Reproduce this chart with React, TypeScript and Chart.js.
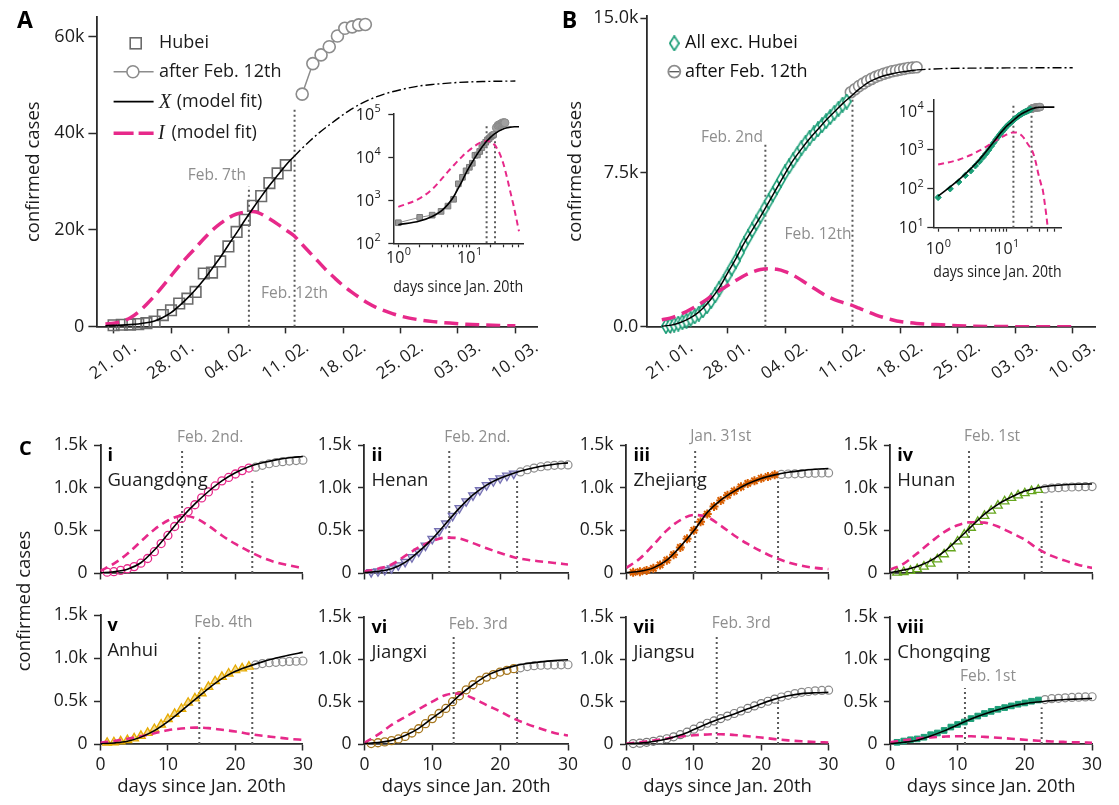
import React, { useEffect, useRef } from 'react';
import { Chart, registerables } from 'chart.js';

Chart.register(...registerables);

const FONT = "'Open Sans', 'Noto Sans', 'DejaVu Sans', sans-serif";
const MATH = "'Liberation Serif', 'DejaVu Serif', serif";
const INK = '#1c1c1c';
const AXIS = '#2a2a2a';
const MAGENTA = '#e7298a';
const GREY = '#8c8c8c';
const DOT = '#5a5a5a';
const NOTE = '#8e8e8e';
const GREEN = '#1b9e77';

Chart.defaults.font.family = FONT;
Chart.defaults.color = INK;

/* ---------------- Panel A : Hubei ---------------- */
const dateTickDays = [1, 8, 15, 22, 29, 36, 43, 50];
const dateTickLabels = ['21. 01.', '28. 01.', '04. 02.', '11. 02.', '18. 02.', '25. 02.', '03. 03.', '10. 03.'];
const aYTicks = [0, 20000, 40000, 60000];
const aYTickLabels = ['0', '20k', '40k', '60k'];

const hubeiDays = [1, 2, 3, 4, 5, 6, 7, 8, 9, 10, 11, 12, 13, 14, 15, 16, 17, 18, 19, 20, 21, 22];
const hubeiCases = [300, 400, 450, 550, 730, 1050, 2400, 3400, 4800, 5800, 7200, 11000, 11200, 13500, 16600, 19600, 22100, 25000, 27000, 29700, 31700, 33400];
const hubeiAfterDays = [24, 25.3, 26.3, 27.3, 28.3, 29.2, 30.1, 30.9, 31.7];
const hubeiAfterCases = [48100, 54400, 56200, 57900, 60100, 61700, 62000, 62400, 62500];

const aFitDays = [0, 1, 2, 3, 4, 5, 6, 7, 8, 9, 10, 11, 12, 13, 14, 15, 16, 17, 18, 19, 20, 21, 22, 23];
const aFitX = [200, 270, 330, 420, 560, 800, 1200, 1900, 2900, 4300, 5900, 7700, 9700, 12000, 14300, 16900, 19400, 22000, 24500, 26900, 29200, 31300, 33400, 35200];
const aExtrapDays = [23, 24, 25, 26, 28, 30, 32, 34, 36, 38, 40, 43, 46, 50];
const aExtrapX = [35200, 36900, 38500, 40000, 42600, 45000, 46800, 48100, 49000, 49700, 50100, 50500, 50700, 50800];
const aIDays = [0, 1, 2, 3, 4, 5, 6, 7, 8, 9, 10, 11, 12, 13, 14, 15, 16, 17, 18, 19, 20, 21, 22, 23, 24, 25, 26, 27, 28, 29, 30, 31, 32, 33, 34, 35, 36, 38, 40, 42, 44, 46, 48, 50];
const aFitI = [550, 700, 1100, 1800, 3000, 4600, 6400, 8400, 10500, 12600, 14500, 16300, 18200, 19900, 21300, 22500, 23300, 23700, 23800, 23300, 22300, 21200, 20000, 18800, 17000, 15200, 13400, 11600, 10000, 8500, 7200, 6000, 4900, 4000, 3300, 2700, 2200, 1500, 1050, 750, 520, 370, 260, 190];
const aMarkDays = [17.5, 23.07];
const aMarkTops = [29000, 45400];
const aMarkLabels = ['Feb. 7th', 'Feb. 12th'];
const aInsetMarkDays = [17.5, 23];

/* ---------------- Panel B : all except Hubei ---------------- */
const bYTicks = [0, 7500, 15000];
const bYTickLabels = ['0.0', '7.5k', '15.0k'];
const bDays = [0.5, 1, 1.5, 2, 2.5, 3, 3.5, 4, 4.5, 5, 5.5, 6, 6.5, 7, 7.5, 8, 8.5, 9, 9.5, 10, 10.5, 11, 11.5, 12, 12.5, 13, 13.5, 14, 14.5, 15, 15.5, 16, 16.5, 17, 17.5, 18, 18.5, 19, 19.5, 20, 20.5, 21, 21.5, 22, 22.5];
const bCases = [30, 60, 100, 150, 220, 290, 390, 500, 640, 800, 1000, 1250, 1530, 1850, 2150, 2500, 2850, 3200, 3600, 4000, 4350, 4700, 5050, 5400, 5750, 6100, 6450, 6800, 7150, 7500, 7800, 8100, 8400, 8700, 8950, 9200, 9400, 9600, 9800, 10000, 10200, 10400, 10600, 10800, 10950];
const bAfterDays = [23, 23.5, 24, 24.5, 25, 25.5, 26, 26.5, 27, 27.5, 28, 28.5, 29, 29.5, 30, 30.5, 31];
const bAfterCases = [11400, 11550, 11700, 11830, 11950, 12050, 12150, 12230, 12300, 12360, 12420, 12460, 12500, 12540, 12580, 12600, 12620];
const bFitDays = [0, 1, 2, 3, 4, 5, 6, 7, 8, 9, 10, 11, 12, 13, 14, 15, 16, 17, 18, 19, 20, 21, 22, 23, 24, 25, 26, 27, 28, 29, 30, 31];
const bFitX = [20, 65, 170, 330, 560, 900, 1350, 1900, 2600, 3300, 4050, 4700, 5350, 6050, 6750, 7450, 8100, 8650, 9150, 9600, 10050, 10450, 10850, 11200, 11550, 11850, 12050, 12200, 12300, 12380, 12440, 12490];
const bExtrapDays = [31, 33, 35, 38, 42, 46, 50];
const bExtrapX = [12490, 12530, 12560, 12575, 12585, 12590, 12590];
const bIDays = [0, 1, 2, 3, 4, 5, 6, 7, 8, 9, 10, 11, 12, 13, 14, 15, 16, 17, 18, 19, 20, 21, 22, 23, 24, 25, 26, 27, 28, 29, 30, 31, 32, 34, 36, 38, 40, 42, 44, 46, 48, 50];
const bFitI = [330, 420, 560, 740, 960, 1200, 1480, 1750, 2000, 2250, 2480, 2660, 2780, 2820, 2790, 2680, 2500, 2260, 2000, 1750, 1500, 1320, 1180, 1060, 900, 740, 580, 450, 340, 250, 200, 160, 130, 90, 45, 22, 10, 4, 1.6, 0.6, 0.2, 0.07];
const bMarkDays = [12.6, 23.2];
const bMarkTops = [9000, 11190];
const bMarkLabels = ['Feb. 2nd', 'Feb. 12th'];

/* ---------------- log insets ---------------- */
const logDayTicks = [1, 2, 3, 4, 5, 6, 7, 8, 9, 10, 20, 30, 40, 50];
const logDayLabelVals = [1, 10];
const logDayLabelExps = ['0', '1'];
const aInsetYTicks = [100, 1000, 10000, 100000];
const aInsetYExps = ['2', '3', '4', '5'];
const bInsetYTicks = [10, 100, 1000, 10000];
const bInsetYExps = ['1', '2', '3', '4'];

/* ---------------- Panel C : provinces ---------------- */
const cXTicks = [0, 10, 20, 30];
const cXTickLabels = ['0', '10', '20', '30'];
const cYTicks = [0, 500, 1000, 1500];
const cYTickLabels = ['0', '0.5k', '1.0k', '1.5k'];
const cDataDays = [1, 2, 3, 4, 5, 6, 7, 8, 9, 10, 11, 12, 13, 14, 15, 16, 17, 18, 19, 20, 21, 22];
const cAfterDays = [23, 24, 25, 26, 27, 28, 29, 30];
const cFitDays = [0, 2, 4, 6, 8, 10, 12, 14, 16, 18, 20, 22, 24, 26, 28, 30];

const gdCases = [10, 15, 30, 50, 75, 115, 170, 250, 345, 440, 545, 640, 720, 800, 880, 950, 1020, 1080, 1120, 1160, 1200, 1230];
const gdAfter = [1240, 1262, 1280, 1295, 1305, 1312, 1318, 1322];
const gdFitX = [3, 15, 45, 120, 270, 455, 645, 810, 955, 1080, 1175, 1245, 1292, 1326, 1350, 1366];
const gdFitI = [25, 110, 225, 370, 510, 615, 670, 645, 555, 440, 340, 255, 180, 125, 88, 56];

const hnCases = [10, 20, 35, 55, 90, 130, 185, 250, 320, 400, 490, 580, 670, 760, 840, 910, 970, 1030, 1075, 1110, 1140, 1165];
const hnAfter = [1185, 1210, 1230, 1245, 1255, 1262, 1265, 1267];
const hnFitX = [5, 20, 50, 125, 250, 400, 580, 760, 915, 1030, 1110, 1170, 1215, 1250, 1275, 1290];
const hnFitI = [20, 50, 100, 200, 300, 375, 415, 405, 350, 290, 235, 185, 155, 135, 118, 100];

const zjCases = [8, 15, 30, 55, 95, 150, 215, 300, 400, 500, 600, 690, 780, 850, 910, 960, 1010, 1050, 1080, 1110, 1130, 1150];
const zjAfter = [1155, 1160, 1162, 1165, 1168, 1170, 1172, 1173];
const zjFitX = [5, 20, 60, 150, 310, 495, 710, 855, 960, 1045, 1108, 1150, 1180, 1200, 1215, 1225];
const zjFitI = [60, 170, 330, 500, 620, 680, 655, 555, 440, 340, 255, 180, 125, 85, 60, 45];

const hunCases = [5, 12, 25, 45, 75, 110, 160, 220, 290, 370, 450, 530, 600, 670, 730, 790, 840, 880, 910, 935, 960, 975];
const hunAfter = [985, 995, 1000, 1005, 1008, 1010, 1012, 1013];
const hunFitX = [5, 35, 77, 145, 250, 390, 540, 690, 805, 890, 960, 1000, 1022, 1035, 1040, 1043];
const hunFitI = [40, 110, 230, 360, 480, 560, 595, 590, 545, 470, 390, 280, 200, 145, 95, 60];

const ahCases = [15, 20, 30, 45, 65, 95, 130, 175, 225, 290, 350, 410, 480, 530, 590, 665, 730, 780, 820, 860, 880, 900];
const ahAfter = [920, 935, 945, 950, 955, 960, 962, 965];
const ahFitX = [3, 12, 32, 80, 155, 260, 385, 515, 645, 760, 845, 905, 955, 1000, 1035, 1065];
const ahFitI = [15, 35, 60, 90, 125, 160, 180, 190, 185, 165, 145, 118, 95, 78, 60, 48];

const jxCases = [5, 15, 25, 40, 60, 90, 130, 180, 240, 300, 360, 420, 500, 570, 640, 700, 750, 790, 820, 850, 870, 890];
const jxAfter = [900, 915, 925, 930, 932, 934, 935, 936];
const jxFitX = [5, 18, 43, 100, 185, 305, 425, 575, 700, 805, 873, 920, 950, 970, 985, 995];
const jxFitI = [15, 110, 225, 320, 410, 500, 580, 595, 540, 460, 385, 300, 235, 180, 130, 100];

const jsCases = [5, 10, 20, 32, 45, 62, 85, 110, 140, 175, 210, 245, 272, 300, 330, 360, 390, 420, 450, 478, 505, 530];
const jsAfter = [555, 575, 595, 610, 620, 628, 633, 636];
const jsFitX = [2, 10, 30, 60, 105, 170, 240, 300, 355, 415, 475, 530, 570, 595, 605, 610];
const jsFitI = [5, 20, 42, 65, 88, 103, 113, 115, 107, 92, 76, 58, 43, 32, 24, 18];

const cqCases = [20, 35, 50, 60, 80, 110, 130, 160, 200, 230, 260, 300, 330, 360, 385, 410, 430, 450, 470, 485, 505, 520];
const cqAfter = [525, 535, 540, 545, 550, 553, 556, 558];
const cqFitX = [5, 20, 45, 95, 155, 225, 296, 355, 405, 445, 477, 497, 512, 525, 532, 538];
const cqFitI = [20, 45, 65, 78, 87, 92, 91, 84, 74, 62, 50, 39, 30, 24, 19, 15];

const cNums = ['i', 'ii', 'iii', 'iv', 'v', 'vi', 'vii', 'viii'];
const cNames = ['Guangdong', 'Henan', 'Zhejiang', 'Hunan', 'Anhui', 'Jiangxi', 'Jiangsu', 'Chongqing'];
const cPeakDays = [12.1, 12.5, 10.2, 11.7, 14.65, 13.15, 13.4, 11.1];
const cPeakLabels = ['Feb. 2nd.', 'Feb. 2nd.', 'Jan. 31st', 'Feb. 1st', 'Feb. 4th', 'Feb. 3rd', 'Feb. 3rd', 'Feb. 1st'];
const cPeakTops = [1450, 1450, 1460, 1460, 1280, 1280, 1290, 660];
const cSecondDay = 22.5;
const cSecondTops = [1100, 1100, 1100, 880, 870, 850, 500, 430];

/* ---------------- helpers ---------------- */
const pts = (xs: number[], ys: number[]) => xs.map((x, i) => ({ x, y: ys[i] }));
const posPts = (xs: number[], ys: number[]) => pts(xs, ys).filter((p) => p.x > 0 && p.y > 0);

function line(data: any[], color: string, width: number, dash: number[] = [], order = 1, extra: any = {}) {
  return {
    data, showLine: true, borderColor: color, backgroundColor: color, borderWidth: width, borderDash: dash,
    pointRadius: 0, pointHoverRadius: 0, cubicInterpolationMode: 'monotone', fill: false, order, ...extra,
  };
}
function marks(data: any[], style: any, r: number, border: string, bg: string, bw: number, order = 3, extra: any = {}) {
  return {
    data, showLine: false, pointStyle: style, pointRadius: r, pointHoverRadius: r, pointBorderColor: border,
    pointBackgroundColor: bg, pointBorderWidth: bw, borderColor: border, backgroundColor: bg, clip: false, order, ...extra,
  };
}
function vdots(day: number, lo: number, hi: number) {
  return line([{ x: day, y: lo }, { x: day, y: hi }], DOT, 2, [2, 3], 7, { cubicInterpolationMode: 'default', tension: 0 });
}

function axis(o: any) {
  return {
    type: o.type || 'linear',
    position: o.pos,
    min: o.min, max: o.max,
    grid: { display: true, drawOnChartArea: false, drawTicks: true, tickLength: o.tl, tickColor: AXIS, tickWidth: o.tw || 1.5, color: AXIS },
    border: { display: true, color: AXIS, width: o.bw || 1.8 },
    ticks: {
      autoSkip: false, padding: o.pad || 0, color: INK, font: { family: FONT, size: o.fs || 17 },
      maxRotation: o.rot || 0, minRotation: o.rot || 0, labelOffset: o.lo || 0,
      callback: (v: any) => { const i = (o.lv || []).indexOf(v); return i >= 0 ? o.lt[i] : ''; },
    },
    title: o.title
      ? { display: true, text: o.title, color: INK, font: { family: FONT, size: o.tfs }, padding: o.tpad }
      : { display: false },
    afterBuildTicks: (s: any) => { s.ticks = o.ticks.map((v: number) => ({ value: v })); },
  };
}

type Rect = { l: number; t: number; w: number; h: number };
type Area = { l: number; t: number; r: number; b: number };

function config(canvas: Rect, area: Area, datasets: any[], xAxis: any, yAxis: any, plugins: any[] = []) {
  return {
    type: 'scatter',
    data: { datasets },
    options: {
      responsive: false, animation: false, devicePixelRatio: 1, events: [],
      layout: { autoPadding: false, padding: { left: 0, top: area.t - canvas.t, right: canvas.l + canvas.w - area.r, bottom: 0 } },
      plugins: { legend: { display: false }, tooltip: { enabled: false } },
      scales: {
        x: { ...xAxis, afterFit: (s: any) => { s.height = canvas.t + canvas.h - area.b; } },
        y: { ...yAxis, afterFit: (s: any) => { s.width = area.l - canvas.l; } },
      },
    },
    plugins,
  };
}

function put(ctx: any, text: string, x: number, y: number, font: string, color: string, align = 'left', base = 'middle') {
  ctx.font = font; ctx.fillStyle = color; ctx.textAlign = align; ctx.textBaseline = base; ctx.fillText(text, x, y);
}

function pow10(ctx: any, exp: string, x: number, y: number, align: string, size: number) {
  const sup = size * 0.68;
  ctx.font = `${size}px ${FONT}`;
  const wb = ctx.measureText('10').width;
  ctx.font = `${sup}px ${FONT}`;
  const we = ctx.measureText(exp).width;
  const left = align === 'center' ? x - (wb + we) / 2 : x - (wb + we);
  ctx.fillStyle = INK; ctx.textAlign = 'left'; ctx.textBaseline = 'middle';
  ctx.font = `${size}px ${FONT}`; ctx.fillText('10', left, y);
  ctx.font = `${sup}px ${FONT}`; ctx.fillText(exp, left + wb + 0.5, y - size * 0.38);
}

function diamondImage(w: number, h: number, stroke: string, fill: string, lw: number) {
  const c = document.createElement('canvas');
  c.width = w; c.height = h;
  const g = c.getContext('2d')!;
  g.beginPath();
  g.moveTo(w / 2, lw / 2); g.lineTo(w - lw / 2, h / 2); g.lineTo(w / 2, h - lw / 2); g.lineTo(lw / 2, h / 2); g.closePath();
  g.fillStyle = fill; g.fill(); g.lineWidth = lw; g.strokeStyle = stroke; g.stroke();
  return c;
}

/* ---------------- layout ---------------- */
const A_RECT: Rect = { l: 0, t: 0, w: 555, h: 400 };
const A_AREA: Area = { l: 96.4, t: 16.7, r: 537.5, b: 326.7 };
const AI_RECT: Rect = { l: 330, t: 92, w: 215, h: 208 };
const AI_AREA: Area = { l: 393.3, t: 114, r: 523.3, b: 243.3 };
const B_RECT: Rect = { l: 555, t: 0, w: 564, h: 400 };
const B_AREA: Area = { l: 646.8, t: 16, r: 1095.7, b: 326.7 };
const BI_RECT: Rect = { l: 870, t: 80, w: 215, h: 205 };
const BI_AREA: Area = { l: 933.3, t: 99.3, r: 1061.7, b: 227.7 };
const cCols = [{ l: 100.4, r: 302.9 }, { l: 364.4, r: 568 }, { l: 626.4, r: 828.6 }, { l: 890.3, r: 1092.1 }];
const cRows = [{ t: 445, b: 575 }, { t: 615, b: 744 }];

/* ---------------- Panel A ---------------- */
function makeA() {
  const ds = [
    line(pts(aFitDays, aFitX), '#000', 1.6, [], 1),
    line(pts(aExtrapDays, aExtrapX), '#000', 1.4, [9, 3, 2, 3], 1),
    line(pts(aIDays, aFitI), MAGENTA, 3.5, [14, 7], 2),
    marks(pts(hubeiDays, hubeiCases), 'rect', 7.5, '#6b6b6b', 'rgba(255,255,255,0)', 1.6, 3),
    marks(pts(hubeiAfterDays, hubeiAfterCases), 'circle', 6, GREY, '#ffffff', 1.6, 3, { showLine: true, borderWidth: 1.5 }),
    vdots(aMarkDays[0], 0, aMarkTops[0]),
    vdots(aMarkDays[1], 0, aMarkTops[1]),
  ];
  const x = axis({ pos: 'bottom', min: -1.1, max: 52.7, ticks: dateTickDays, lv: dateTickDays, lt: dateTickLabels, tl: 6.7, pad: 4, fs: 17, rot: 35, lo: 21 });
  const y = axis({ pos: 'left', min: 0, max: 64100, ticks: aYTicks, lv: aYTicks, lt: aYTickLabels, tl: 8, pad: 4, fs: 18,
    title: 'confirmed cases', tfs: 18.5, tpad: { top: 22.9, bottom: 0 } });
  const overlay = {
    id: 'aov',
    afterDraw(chart: any) {
      const { ctx } = chart; const xs = chart.scales.x; const ys = chart.scales.y;
      ctx.save();
      put(ctx, 'A', 17, 28.3, `bold 23px ${FONT}`, '#000', 'left', 'alphabetic');
      put(ctx, aMarkLabels[0], xs.getPixelForValue(aMarkDays[0]) - 32, ys.getPixelForValue(31200), `15.5px ${FONT}`, NOTE, 'center');
      put(ctx, aMarkLabels[1], xs.getPixelForValue(aMarkDays[1]), ys.getPixelForValue(6800), `15.5px ${FONT}`, NOTE, 'center');
      // legend
      ctx.strokeStyle = '#6b6b6b'; ctx.lineWidth = 1.6;
      ctx.strokeRect(135.7 - 5.5, 43.3 - 5.5, 11, 11);
      put(ctx, 'Hubei', 159, 43.3, `18px ${FONT}`, INK);
      ctx.strokeStyle = GREY; ctx.lineWidth = 1.5;
      ctx.beginPath(); ctx.moveTo(113.6, 71.7); ctx.lineTo(153.6, 71.7); ctx.stroke();
      ctx.beginPath(); ctx.arc(132.9, 71.7, 6, 0, Math.PI * 2); ctx.fillStyle = '#fff'; ctx.fill(); ctx.lineWidth = 1.6; ctx.stroke();
      put(ctx, 'after Feb. 12th', 159, 71.7, `18px ${FONT}`, INK);
      ctx.strokeStyle = '#000'; ctx.lineWidth = 1.8;
      ctx.beginPath(); ctx.moveTo(113.6, 101.7); ctx.lineTo(153.6, 101.7); ctx.stroke();
      put(ctx, 'X', 159, 102.5, `italic 20px ${MATH}`, INK);
      put(ctx, '(model fit)', 176.8, 101.7, `18px ${FONT}`, INK);
      ctx.strokeStyle = MAGENTA; ctx.lineWidth = 3.5; ctx.setLineDash([20, 5]);
      ctx.beginPath(); ctx.moveTo(113.6, 133.3); ctx.lineTo(153.6, 133.3); ctx.stroke();
      ctx.setLineDash([]);
      put(ctx, 'I', 158, 134, `italic 20px ${MATH}`, INK);
      put(ctx, '(model fit)', 171.4, 133.3, `18px ${FONT}`, INK);
      ctx.restore();
    },
  };
  return config(A_RECT, A_AREA, ds, x, y, [overlay]);
}

function insetLabels(yTicks: number[], yExps: string[], xGap: number, yGap: number) {
  return {
    id: 'pow',
    afterDraw(chart: any) {
      const { ctx } = chart; const xs = chart.scales.x; const ys = chart.scales.y;
      ctx.save();
      logDayLabelVals.forEach((v, i) => pow10(ctx, logDayLabelExps[i], xs.getPixelForValue(v), xs.top + xGap, 'center', 16));
      yTicks.forEach((v, i) => pow10(ctx, yExps[i], ys.right - yGap, ys.getPixelForValue(v) + 1, 'right', 16));
      ctx.restore();
    },
  };
}

function makeAInset() {
  const fit = posPts(aFitDays, aFitX).concat(posPts(aExtrapDays.slice(1), aExtrapX.slice(1)));
  const ds = [
    line(fit, '#000', 1.6, [], 1),
    line(posPts(aIDays, aFitI), MAGENTA, 2, [6, 4], 2),
    marks(posPts(hubeiDays, hubeiCases), 'rect', 4, '#7a7a7a', '#9a9a9a', 1, 3, { showLine: true, borderColor: '#8a8a8a', borderWidth: 1 }),
    marks(posPts(hubeiAfterDays, hubeiAfterCases), 'circle', 4, '#8a8a8a', '#a0a0a0', 1, 3),
    vdots(aInsetMarkDays[0], 100, 60000),
    vdots(aInsetMarkDays[1], 100, 60000),
  ];
  const x = axis({ type: 'logarithmic', pos: 'bottom', min: 0.85, max: 57.5, ticks: logDayTicks, lv: [], lt: [], tl: 4, tw: 1.2, bw: 1.5,
    title: 'days since Jan. 20th', tfs: 17, tpad: { top: 0, bottom: 2.8 } });
  const y = axis({ type: 'logarithmic', pos: 'left', min: 100, max: 100000, ticks: aInsetYTicks, lv: [], lt: [], tl: 5, tw: 1.3, bw: 1.5 });
  return config(AI_RECT, AI_AREA, ds, x, y, [insetLabels(aInsetYTicks, aInsetYExps, 15, 13)]);
}

/* ---------------- Panel B ---------------- */
function makeB() {
  const diamond = diamondImage(10, 16, GREEN, '#ffffff', 1.6);
  const ds = [
    line(pts(bFitDays, bFitX), '#000', 1.5, [], 1),
    line(pts(bExtrapDays, bExtrapX), '#000', 1.4, [9, 3, 2, 3], 1),
    line(pts(bIDays, bFitI), MAGENTA, 3.5, [14, 7], 2),
    marks(pts(bDays, bCases), diamond, 6, GREEN, '#fff', 1.6, 3),
    marks(pts(bAfterDays, bAfterCases), 'circle', 5.5, GREY, '#ffffff', 1.6, 3),
    vdots(bMarkDays[0], 0, bMarkTops[0]),
    vdots(bMarkDays[1], 0, bMarkTops[1]),
  ];
  const x = axis({ pos: 'bottom', min: -1.83, max: 52.8, ticks: dateTickDays, lv: dateTickDays, lt: dateTickLabels, tl: 6.7, pad: 4, fs: 17, rot: 35, lo: 21 });
  const y = axis({ pos: 'left', min: 0, max: 15110, ticks: bYTicks, lv: bYTicks, lt: bYTickLabels, tl: 6.4, pad: 2, fs: 18,
    title: 'confirmed cases', tfs: 18.5, tpad: { top: 9.9, bottom: 0 } });
  const overlay = {
    id: 'bov',
    afterDraw(chart: any) {
      const { ctx } = chart; const xs = chart.scales.x; const ys = chart.scales.y;
      const ox = B_RECT.l;
      ctx.save();
      put(ctx, 'B', 561.8 - ox, 27.5, `bold 23px ${FONT}`, '#000', 'left', 'alphabetic');
      put(ctx, bMarkLabels[0], xs.getPixelForValue(bMarkDays[0]) - 33.4, ys.getPixelForValue(9220), `15.5px ${FONT}`, NOTE, 'center');
      put(ctx, bMarkLabels[1], xs.getPixelForValue(bMarkDays[1]) - 1, ys.getPixelForValue(4490), `15.5px ${FONT}`, NOTE, 'right');
      // legend
      ctx.drawImage(diamond, 674.3 - ox - 5.5, 43.3 - 8, 11, 16);
      put(ctx, 'All exc. Hubei', 685 - ox, 43.3, `18px ${FONT}`, '#111');
      ctx.beginPath(); ctx.arc(674.3 - ox, 71.7, 6, 0, Math.PI * 2); ctx.fillStyle = '#fff'; ctx.fill();
      ctx.strokeStyle = GREY; ctx.lineWidth = 1.8; ctx.stroke();
      ctx.strokeStyle = '#555'; ctx.lineWidth = 1.3;
      ctx.beginPath(); ctx.moveTo(674.3 - ox - 5, 71.7); ctx.lineTo(674.3 - ox + 5, 71.7); ctx.stroke();
      put(ctx, 'after Feb. 12th', 685 - ox, 71.7, `18px ${FONT}`, '#111');
      ctx.restore();
    },
  };
  return config(B_RECT, B_AREA, ds, x, y, [overlay]);
}

function makeBInset() {
  const fit = posPts(bFitDays, bFitX).concat(posPts(bExtrapDays.slice(1), bExtrapX.slice(1)));
  const ds = [
    line(fit, '#000', 1.6, [], 1),
    line(posPts(bIDays, bFitI), MAGENTA, 2, [6, 4], 2),
    marks(posPts(bDays, bCases), 'rectRot', 3.2, GREEN, GREEN, 1, 3),
    marks(posPts(bAfterDays, bAfterCases), 'circle', 3.8, '#8a8a8a', '#a0a0a0', 1, 3),
    vdots(bMarkDays[0], 10, 15000),
    vdots(bMarkDays[1], 10, 15000),
  ];
  const x = axis({ type: 'logarithmic', pos: 'bottom', min: 0.85, max: 64, ticks: logDayTicks, lv: [], lt: [], tl: 4, tw: 1.2, bw: 1.5,
    title: 'days since Jan. 20th', tfs: 17, tpad: { top: 0, bottom: 3.1 } });
  const y = axis({ type: 'logarithmic', pos: 'left', min: 10, max: 20000, ticks: bInsetYTicks, lv: [], lt: [], tl: 6, tw: 1.3, bw: 1.5 });
  return config(BI_RECT, BI_AREA, ds, x, y, [insetLabels(bInsetYTicks, bInsetYExps, 22, 10)]);
}

/* ---------------- Panel C ---------------- */
const cCases = [gdCases, hnCases, zjCases, hunCases, ahCases, jxCases, jsCases, cqCases];
const cAfter = [gdAfter, hnAfter, zjAfter, hunAfter, ahAfter, jxAfter, jsAfter, cqAfter];
const cFitX = [gdFitX, hnFitX, zjFitX, hunFitX, ahFitX, jxFitX, jsFitX, cqFitX];
const cFitI = [gdFitI, hnFitI, zjFitI, hunFitI, ahFitI, jxFitI, jsFitI, cqFitI];
const cMarker = [
  { style: 'circle', r: 4, border: '#e7298a', bg: 'rgba(255,255,255,0)', bw: 1.3, rot: 0 },
  { style: 'triangle', r: 5, border: '#7570b3', bg: 'rgba(117,112,179,0.3)', bw: 1.3, rot: 180 },
  { style: 'star', r: 4.5, border: '#d95f02', bg: '#d95f02', bw: 2, rot: 0 },
  { style: 'triangle', r: 5, border: '#66a61e', bg: 'rgba(255,255,255,0)', bw: 1.3, rot: 0 },
  { style: 'triangle', r: 5, border: '#e6ab02', bg: 'rgba(230,171,2,0.45)', bw: 1.3, rot: 0 },
  { style: 'circle', r: 4, border: '#a6761d', bg: 'rgba(255,255,255,0)', bw: 1.3, rot: 0 },
  { style: 'circle', r: 4, border: '#7a7a7a', bg: 'rgba(255,255,255,0)', bw: 1.2, rot: 0 },
  { style: 'rect', r: 4, border: '#1b9e77', bg: '#1b9e77', bw: 1, rot: 0 },
];

function cRect(k: number): Rect {
  const c = k % 4; const r = Math.floor(k / 4);
  const l = c === 0 ? 0 : Math.floor(cCols[c].l - 62);
  const right = Math.ceil(cCols[c].r + 16);
  const t = r === 0 ? 425 : (c === 0 ? 520 : 600);
  const b = r === 0 ? 590 : 805;
  return { l, t, w: right - l, h: b - t };
}
function cArea(k: number): Area {
  const c = k % 4; const r = Math.floor(k / 4);
  return { l: cCols[c].l, r: cCols[c].r, t: cRows[r].t, b: cRows[r].b };
}

function makeC(k: number) {
  const rect = cRect(k); const area = cArea(k); const row = Math.floor(k / 4);
  const m = cMarker[k];
  const ds = [
    line(pts(cFitDays, cFitX[k]), '#000', 1.6, [], 1),
    line(pts(cFitDays, cFitI[k]), MAGENTA, 2.6, [8, 5], 2),
    marks(pts(cDataDays, cCases[k]), m.style, m.r, m.border, m.bg, m.bw, 3, { pointRotation: m.rot }),
    marks(pts(cAfterDays, cAfter[k]), 'circle', 4, GREY, 'rgba(255,255,255,0)', 1.2, 4),
    vdots(cPeakDays[k], 0, cPeakTops[k]),
    vdots(cSecondDay, 0, cSecondTops[k]),
  ];
  const x = axis({ pos: 'bottom', min: 0, max: 30, ticks: cXTicks, lv: row === 1 ? cXTicks : [], lt: cXTickLabels,
    tl: 6.5, pad: 3.9, fs: 17.5,
    title: row === 1 ? 'days since Jan. 20th' : undefined, tfs: 18.5, tpad: { top: 0, bottom: 7.2 } });
  const y = axis({ pos: 'left', min: 0, max: 1500, ticks: cYTicks, lv: cYTicks, lt: cYTickLabels, tl: 6.4, pad: 6.5, fs: 17.5 });
  const overlay = {
    id: 'cov',
    afterDraw(chart: any) {
      const { ctx } = chart; const xs = chart.scales.x; const ys = chart.scales.y; const a = chart.chartArea;
      ctx.save();
      put(ctx, cNums[k], a.left + 7, a.top + 11, `bold 18px ${FONT}`, '#000');
      put(ctx, cNames[k], a.left + 7, a.top + 36, `18.5px ${FONT}`, INK);
      put(ctx, cPeakLabels[k], xs.getPixelForValue(cPeakDays[k]) - 5, ys.getPixelForValue(cPeakTops[k]) - 11.5, `15.5px ${FONT}`, NOTE);
      if (k === 0) put(ctx, 'C', 19 - rect.l, 455 - rect.t, `bold 20px ${FONT}`, '#000', 'left', 'alphabetic');
      if (k === 4) {
        ctx.translate(25 - rect.l, 601 - rect.t);
        ctx.rotate(-Math.PI / 2);
        put(ctx, 'confirmed cases', 0, 0, `18.5px ${FONT}`, INK, 'center');
      }
      ctx.restore();
    },
  };
  return config(rect, area, ds, x, y, [overlay]);
}

/* ---------------- React ---------------- */
function ChartBox({ rect, make }: { rect: Rect; make: () => any }) {
  const ref = useRef<HTMLCanvasElement | null>(null);
  useEffect(() => {
    if (!ref.current) return;
    const chart = new Chart(ref.current, make());
    return () => chart.destroy();
  }, []);
  return (
    <canvas
      ref={ref}
      width={rect.w}
      height={rect.h}
      style={{ position: 'absolute', left: rect.l, top: rect.t, width: rect.w, height: rect.h, display: 'block' }}
    />
  );
}

export default function App() {
  return (
    <div style={{ position: 'absolute', left: 0, top: 0, width: 1119, height: 805, overflow: 'hidden', background: '#ffffff' }}>
      <ChartBox rect={A_RECT} make={makeA} />
      <ChartBox rect={B_RECT} make={makeB} />
      {[0, 1, 2, 3, 4, 5, 6, 7].map((k) => (
        <ChartBox key={k} rect={cRect(k)} make={() => makeC(k)} />
      ))}
      <ChartBox rect={AI_RECT} make={makeAInset} />
      <ChartBox rect={BI_RECT} make={makeBInset} />
    </div>
  );
}
